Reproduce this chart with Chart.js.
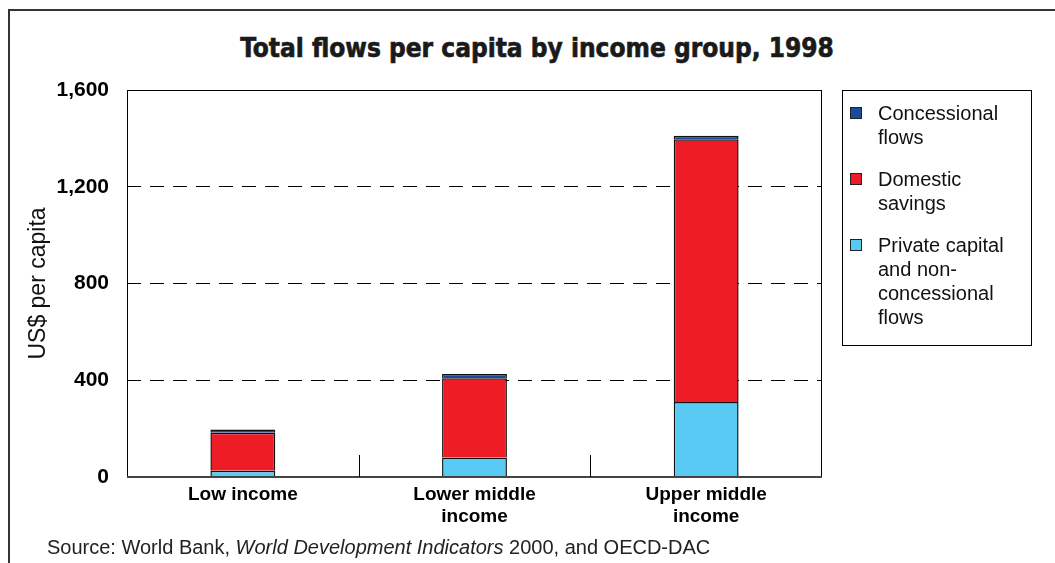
<!DOCTYPE html>
<html>
<head>
<meta charset="utf-8">
<title>Total flows per capita by income group, 1998</title>
<script src="https://cdn.jsdelivr.net/npm/chart.js@4.4.0/dist/chart.umd.min.js"></script>
<style>
    body { margin: 0; background: #fff; font-family: "Liberation Sans", Arial, sans-serif; color: #111; }
    #page { position: relative; width: 1055px; height: 563px; overflow: hidden; }
    #frame { position: absolute; left: 8px; top: 9px; width: 1100px; height: 600px; border-left: 2px solid #333; border-top: 2px solid #333; }
    #title { position: absolute; left: 0; width: 1074px; top: 33px; text-align: center; font-family: "DejaVu Sans Condensed", "DejaVu Sans", sans-serif; font-stretch: condensed; font-weight: bold; font-size: 26px; color: #1a1a1a; -webkit-text-stroke: 0.6px #1a1a1a; }
    #chartBox { position: absolute; left: 0; top: 0; width: 1055px; height: 563px; }
    #legend { position: absolute; left: 842px; top: 90px; width: 190px; height: 256px; border: 1px solid #000; box-sizing: border-box; padding-top: 10px; }
    .item { position: relative; padding-left: 35px; font-size: 20px; line-height: 24px; margin-bottom: 18px; }
    .swatch { position: absolute; left: 7px; top: 6px; width: 10px; height: 10px; border: 1px solid #222; }
    #source { position: absolute; left: 47px; top: 536px; font-size: 20px; color: #222; }
</style>
</head>
<body>
<div id="page">
    <div id="frame"></div>
    <div id="title">Total flows per capita by income group, 1998</div>
    <div id="chartBox"><canvas id="flowsChart"></canvas></div>
    <div id="legend"></div>
    <div id="source">Source: World Bank, <i>World Development Indicators</i> 2000, and OECD-DAC</div>
</div>
<script>
// Chart data (US$ per capita)
const categories = [['Low income'], ['Lower middle', 'income'], ['Upper middle', 'income']];
const privateCapital = [26, 81, 310];
const domesticSavings = [157, 327, 1086];
const concessionalFlows = [13, 18, 15];
const yTicks = [0, 400, 800, 1200, 1600];

const seriesColors = { concessional: '#1d4b9b', domestic: '#ee1d25', privateCap: '#59caf4' };

// Legend entries, top to bottom
const legendEntries = [
    { lines: ['Concessional', 'flows'], color: seriesColors.concessional },
    { lines: ['Domestic', 'savings'], color: seriesColors.domestic },
    { lines: ['Private capital', 'and non-', 'concessional', 'flows'], color: seriesColors.privateCap }
];

// Build html legend
function buildLegend() {
    document.getElementById('legend').innerHTML = legendEntries.map(entry => `
        <div class="item">
            <span class="swatch" style="background:${entry.color}"></span>
            ${entry.lines.join('<br>')}
        </div>
    `).join('');
}

// Plot frame and category dividers
const framePlugin = {
    id: 'framePlugin',
    afterDraw(chart) {
        const { ctx, chartArea } = chart;
        const xScale = chart.scales.x;
        ctx.save();
        ctx.setLineDash([]);
        ctx.strokeStyle = '#000';
        ctx.lineWidth = 1;
        ctx.strokeRect(chartArea.left + 0.5, chartArea.top + 0.5, chartArea.right - chartArea.left - 1, chartArea.bottom - chartArea.top);
        ctx.strokeStyle = '#444';
        ctx.lineWidth = 2;
        ctx.beginPath();
        ctx.moveTo(chartArea.left, chartArea.bottom);
        ctx.lineTo(chartArea.right, chartArea.bottom);
        ctx.stroke();
        ctx.lineWidth = 1;
        ctx.strokeStyle = '#000';
        for (let i = 0; i < categories.length - 1; i++) {
            const x = Math.round((xScale.getPixelForValue(i) + xScale.getPixelForValue(i + 1)) / 2) + 0.5;
            ctx.beginPath();
            ctx.moveTo(x, chartArea.bottom);
            ctx.lineTo(x, chartArea.bottom - 22);
            ctx.stroke();
        }
        ctx.restore();
    }
};

function createFlowsChart() {
    const ctx = document.getElementById('flowsChart').getContext('2d');
    new Chart(ctx, {
        type: 'bar',
        data: {
            labels: categories,
            datasets: [{
                label: 'Private capital and non-concessional flows',
                data: privateCapital,
                backgroundColor: seriesColors.privateCap
            }, {
                label: 'Domestic savings',
                data: domesticSavings,
                backgroundColor: seriesColors.domestic
            }, {
                label: 'Concessional flows',
                data: concessionalFlows,
                backgroundColor: seriesColors.concessional
            }]
        },
        options: {
            responsive: true,
            maintainAspectRatio: false,
            animation: false,
            layout: {
                padding: { top: 90, right: 233, left: 0, bottom: 0 }
            },
            datasets: {
                bar: {
                    borderColor: '#111',
                    borderWidth: 1.5,
                    barPercentage: 0.28,
                    categoryPercentage: 1
                }
            },
            plugins: {
                legend: { display: false },
                title: { display: false },
                tooltip: { enabled: false }
            },
            scales: {
                x: {
                    stacked: true,
                    grid: { display: false },
                    border: { display: false },
                    ticks: {
                        color: '#000',
                        padding: -2,
                        maxRotation: 0,
                        font: { family: '"Liberation Sans", Arial, sans-serif', size: 19, weight: 'bold', lineHeight: 1.2 }
                    },
                    afterFit(scale) { scale.height = 86; }
                },
                y: {
                    stacked: true,
                    min: yTicks[0],
                    max: yTicks[yTicks.length - 1],
                    afterBuildTicks(scale) { scale.ticks = yTicks.map(v => ({ value: v })); },
                    grid: {
                        drawTicks: false,
                        color: c => (c.tick.value === yTicks[0] || c.tick.value === yTicks[yTicks.length - 1]) ? 'rgba(0,0,0,0)' : '#000',
                        lineWidth: 1
                    },
                    border: { display: false, dash: [14, 9] },
                    ticks: {
                        color: '#000',
                        padding: 18,
                        font: { family: '"Liberation Sans", Arial, sans-serif', size: 21, weight: 'bold' },
                        callback: v => v.toLocaleString('en-US')
                    },
                    title: {
                        display: true,
                        text: 'US$ per capita',
                        color: '#111',
                        padding: { top: 25, bottom: 0 },
                        font: { family: '"Liberation Sans", Arial, sans-serif', size: 23 }
                    },
                    afterFit(scale) { scale.width = 127; }
                }
            }
        },
        plugins: [framePlugin]
    });
}

document.addEventListener('DOMContentLoaded', function() {
    buildLegend();
    createFlowsChart();
});
</script>
</body>
</html>
